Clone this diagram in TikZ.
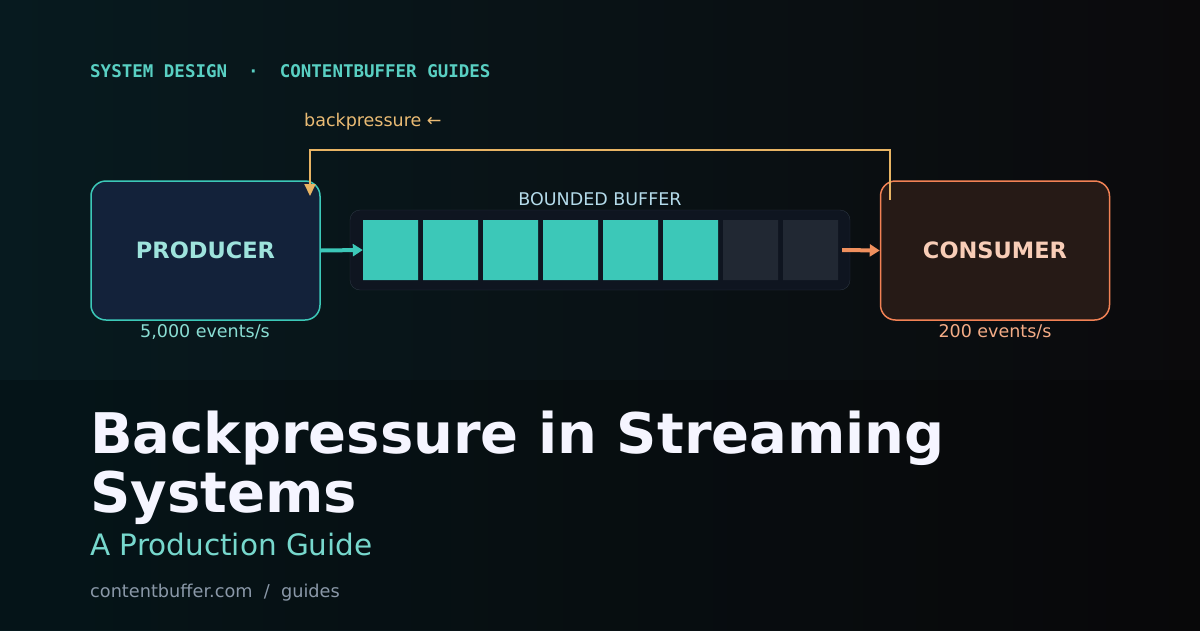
\documentclass[tikz,border=0pt]{standalone}
\usepackage{fontspec}
\setmainfont{DejaVu Sans}
\setmonofont{DejaVu Sans Mono}
\usetikzlibrary{positioning, arrows.meta, shapes.misc}

\definecolor{bgA}{HTML}{071A1F}
\definecolor{bgB}{HTML}{0B0A0C}
\definecolor{teal}{HTML}{3CC8B8}
\definecolor{orng}{HTML}{F0905E}
\definecolor{gold}{HTML}{E8B464}
\definecolor{prodfill}{HTML}{13223A}
\definecolor{consfill}{HTML}{261A16}
\definecolor{buffill}{HTML}{0F1520}
\definecolor{bufline}{HTML}{2A3440}
\definecolor{emptycell}{HTML}{212833}
\definecolor{urlgray}{HTML}{8A98A8}

\tikzset{
  stage/.style={rounded corners=15pt, line width=1.5pt, minimum width=229pt, minimum height=139pt, font=\bfseries\fontsize{22.5}{22.5}\selectfont},
  cell/.style={chamfered rectangle, chamfered rectangle xsep=4pt, chamfered rectangle ysep=4pt, minimum width=55pt, minimum height=60pt, inner sep=0pt},
  rate/.style={font=\fontsize{17.5}{17.5}\selectfont, anchor=base, inner sep=0pt},
  flow/.style={line width=4pt, -{Triangle[length=10pt, width=12pt]}}
}

\begin{document}
\begin{tikzpicture}[x=1pt, y=-1pt]
  \useasboundingbox (0,0) rectangle (1200,630);
  \shade[left color=bgA, right color=bgB] (0,0) rectangle (1200,630);
  \fill[black, opacity=0.2] (0,380) rectangle (1200,630);

  % Header
  \node[anchor=base west, inner sep=0pt, text=teal!85!white, font=\ttfamily\bfseries\fontsize{17.5}{17.5}\selectfont] (head) at (90,77) {SYSTEM DESIGN\ \ ·\ \ CONTENTBUFFER GUIDES};

  % Stages
  \node[stage, draw=teal, fill=prodfill, text=teal!50!white] (prod) at (205.5,250.5) {PRODUCER};
  \node[stage, draw=orng!90!red, fill=consfill, text=orng!45!white] (cons) at (995,250.5) {CONSUMER};
  \node[rate, text=teal!60!white] (prodrate) at (205,337) {5,000 events/s};
  \node[rate, text=orng!75!white] (consrate) at (995,337) {200 events/s};

  % Buffer
  \node[draw=bufline, fill=buffill, rounded corners=10pt, minimum width=500pt, minimum height=80pt] (buf) at (600,250) {};
  \node[anchor=base, inner sep=0pt, text=gray!40!cyan!40!white, font=\fontsize{17.5}{17.5}\selectfont] (buflbl) at (600,205) {BOUNDED BUFFER};
  \foreach \i in {0,...,7} {
    \ifnum\i<6 \def\cc{teal}\else\def\cc{emptycell}\fi
    \node[cell, fill=\cc] (c\i) at (390.5+60*\i,250) {};
  }

  % Flow
  \draw[flow, teal] (prod.east) -- (c0.west);
  \draw[flow, orng] (c7.east) ++(4,0) coordinate (outstart) (outstart) -- (cons.west);

  % Backpressure
  \coordinate (bpA) at (890,200);
  \coordinate (bpB) at (310,196);
  \draw[gold, line width=2pt, -{Triangle[length=12pt, width=11pt]}] (bpA) |- (600,150) -| (bpB);
  \node[anchor=base west, inner sep=0pt, text=gold!90!white, font=\fontsize{17.5}{17.5}\selectfont] (bplbl) at (304,126) {backpressure ←};

  % Title
  \node[anchor=base west, text=blue!4!white, font=\bfseries\fontsize{56}{58}\selectfont, inner sep=0pt] (title1) at (90,453) {Backpressure in Streaming};
  \node[anchor=base west, text=blue!4!white, font=\bfseries\fontsize{56}{58}\selectfont, inner sep=0pt] (title2) at (90,512) {Systems};
  \node[anchor=base west, text=teal!70!white, font=\fontsize{29.5}{29.5}\selectfont, inner sep=0pt] (sub) at (90,555) {A Production Guide};
  \node[anchor=base west, text=urlgray, font=\fontsize{17.7}{17.7}\selectfont, inner sep=0pt] (url) at (90,597) {contentbuffer.com\ \ /\ \ guides};
\end{tikzpicture}
\end{document}
